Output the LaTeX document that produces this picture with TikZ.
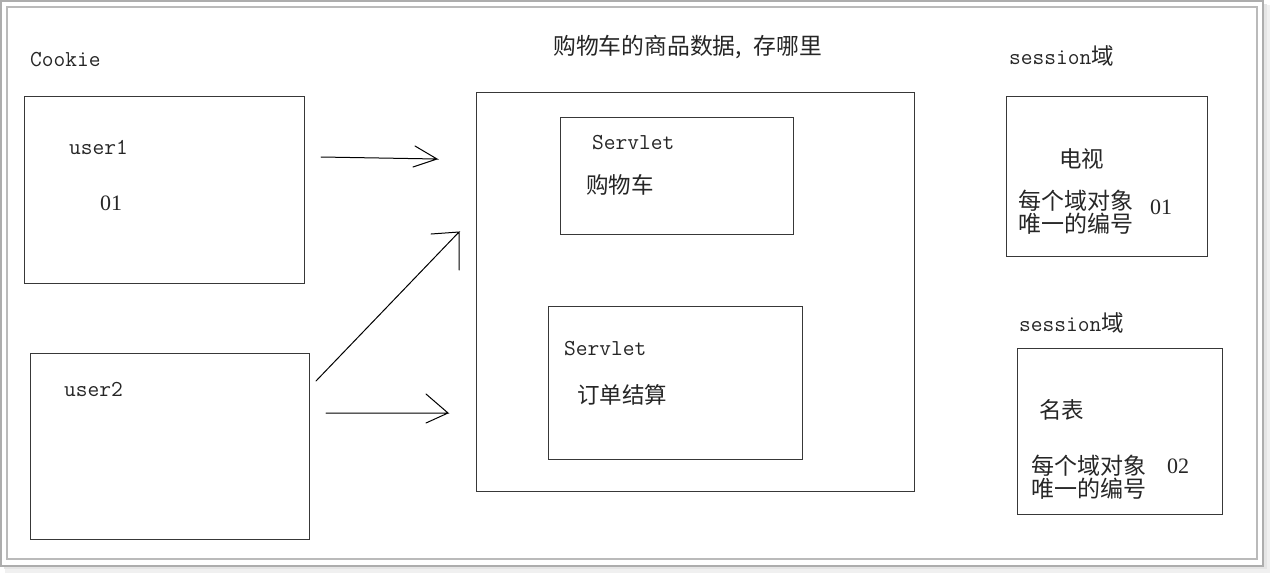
\documentclass[tikz,border=0pt]{standalone}
\usepackage{fontspec}
\setmainfont{Liberation Serif}
\newfontfamily\cjk{Noto Sans CJK SC}
\begin{document}
\begin{tikzpicture}[x=1pt,y=-1pt,
  box/.style={draw=black!78,line width=1.3pt,fill=none,inner sep=0pt,anchor=north west},
  mono/.style={inner sep=0pt,anchor=west,text=black!85,font=\ttfamily\fontsize{22.8}{24}\selectfont},
  han/.style={inner sep=0pt,anchor=west,text=black!85,font=\cjk\fontsize{22.5}{23}\selectfont,align=left},
  note/.style={han,font=\cjk\fontsize{23}{23}\selectfont},
  num/.style={inner sep=0pt,anchor=west,text=black!85,font=\fontsize{22}{24}\selectfont},
  link/.style={draw=black,line width=1pt,line cap=round}]
  \useasboundingbox (0,0) rectangle (1270,573);
  % page frame with soft drop shadow
  \fill[black!6] (5,5) rectangle (1270,573);
  \fill[black!10] (4,4) rectangle (1267,569);
  \filldraw[fill=white,draw=black!32,line width=1.2pt] (1,1) rectangle (1263,566);
  \draw[black!27,line width=1.2pt] (7,7) rectangle (1257,559);

  % headings
  \node[mono] (cookie) at (30,60) {Cookie};
  \node[han,font=\cjk\fontsize{22.8}{23}\selectfont] (title) at (553,47) {购物车的商品数据,\hspace{12pt}存哪里};

  % client side
  \node[box,minimum width=280pt,minimum height=187pt] (u1) at (24,96) {};
  \node[mono] (u1name) at (69,147) {user1};
  \node[num] (u1id) at (100,203) {01};
  \node[box,minimum width=279pt,minimum height=186pt] (u2) at (30,353) {};
  \node[mono] (u2name) at (64,389) {user2};

  % server side
  \node[box,minimum width=438pt,minimum height=399pt] (srv) at (476,92) {};
  \node[box,minimum width=233pt,minimum height=117pt] (cart) at (560,117) {};
  \node[mono] (cartname) at (592,143) {Servlet};
  \node[han] (carttext) at (586,185) {购物车};
  \node[box,minimum width=254pt,minimum height=153pt] (order) at (548,306) {};
  \node[mono] (ordername) at (564,349) {Servlet};
  \node[han] (ordertext) at (577,395) {订单结算};

  % session scopes
  \node[mono] (s1title) at (1009,56) {session\cjk\fontsize{22.5}{22}\selectfont 域};
  \node[box,minimum width=201pt,minimum height=160pt] (s1) at (1006,96) {};
  \node[han] (s1item) at (1059,159) {电视};
  \node[note] (s1note) at (1018,212.5) {每个域对象\\唯一的编号};
  \node[num] (s1id) at (1150,207) {01};

  \node[mono] (s2title) at (1019,323) {session\cjk\fontsize{22.5}{22}\selectfont 域};
  \node[box,minimum width=205pt,minimum height=166pt] (s2) at (1017,348) {};
  \node[han] (s2item) at (1039,410) {名表};
  \node[note] (s2note) at (1031,477) {每个域对象\\唯一的编号};
  \node[num] (s2id) at (1167,466) {02};

  % hand-drawn arrows
  \coordinate (a1s) at (321,157);
  \coordinate (a1e) at (437,159);
  \coordinate (a2s) at (316,381);
  \coordinate (a2e) at (459,232);
  \coordinate (a3s) at (326,413);
  \coordinate (a3e) at (448,413);
  \draw[link] (a1s) -- (a1e) -- ++(-22,-13) (a1e) -- ++(-24,8);
  \draw[link] (a2s) -- (a2e) -- ++(-28,2) (a2e) -- ++(0,38);
  \draw[link] (a3s) -- (a3e) -- ++(-22,-19) (a3e) -- ++(-22,10);
\end{tikzpicture}
\end{document}
